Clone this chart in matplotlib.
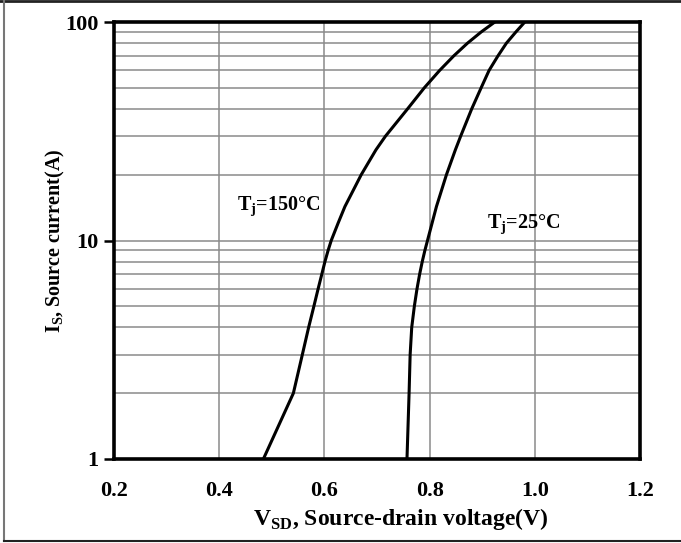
import matplotlib
matplotlib.use("Agg")
import matplotlib.pyplot as plt
from matplotlib.lines import Line2D
from matplotlib.ticker import FixedLocator, NullFormatter

# source current (A) vs source-drain voltage (V)
I_150 = [1, 2, 3, 4, 5, 6, 7, 8, 9, 10, 12, 14.3, 17, 20, 26, 30, 40, 50, 60, 70, 80, 90, 100]
V_150 = [0.484, 0.541, 0.558, 0.570, 0.580, 0.588, 0.595, 0.601, 0.607, 0.613,
         0.626, 0.639, 0.655, 0.670, 0.698, 0.716, 0.758, 0.790, 0.819, 0.846,
         0.872, 0.898, 0.924]

I_25 = [1, 2, 3, 4, 5, 6, 7, 8, 9, 10, 14.3, 20, 26, 30, 40, 50, 60, 70, 80, 90, 100]
V_25 = [0.757, 0.761, 0.763, 0.766, 0.771, 0.776, 0.781, 0.786, 0.791, 0.796,
        0.813, 0.832, 0.849, 0.859, 0.880, 0.898, 0.913, 0.930, 0.946, 0.964, 0.981]

X_TICKS = [0.2, 0.4, 0.6, 0.8, 1.0, 1.2]
X_TICK_LABELS = ["0.2", "0.4", "0.6", "0.8", "1.0", "1.2"]
Y_TICKS = [1, 10, 100]
Y_TICK_LABELS = ["1", "10", "100"]
Y_MINOR = [2, 3, 4, 5, 6, 7, 8, 9, 20, 30, 40, 50, 60, 70, 80, 90]

SERIF = ["Liberation Serif", "DejaVu Serif"]
plt.rcParams["font.family"] = SERIF
plt.rcParams["font.weight"] = "bold"

fig = plt.figure(figsize=(6.81, 5.43), dpi=100)
ax = fig.add_axes([114 / 681, 84 / 543, 526 / 681, 437 / 543])

ax.set_yscale("log")
ax.set_xlim(0.2, 1.2)
ax.set_ylim(1, 100)

ax.plot(V_150, I_150, color="black", linewidth=2.2, solid_joinstyle="round")
ax.plot(V_25, I_25, color="black", linewidth=2.2, solid_joinstyle="round")

ax.set_xticks(X_TICKS)
ax.set_xticklabels(X_TICK_LABELS)
ax.yaxis.set_major_locator(FixedLocator(Y_TICKS))
ax.set_yticklabels(Y_TICK_LABELS)
ax.yaxis.set_minor_locator(FixedLocator(Y_MINOR))
ax.yaxis.set_minor_formatter(NullFormatter())

ax.grid(True, which="both", axis="y", color="#8a8a8a", linewidth=1.1)
ax.grid(True, which="major", axis="x", color="#8a8a8a", linewidth=1.1)
ax.set_axisbelow(True)

ax.tick_params(axis="x", length=0, pad=16, labelsize=16)
ax.tick_params(axis="y", which="major", length=7, width=1.8, pad=4, labelsize=16)
ax.tick_params(axis="y", which="minor", length=0)
for lab in ax.get_xticklabels() + ax.get_yticklabels():
    lab.set_fontweight("bold")

for sp in ax.spines.values():
    sp.set_linewidth(2.6)

ax.set_xlabel("V$_\\mathregular{SD}$, Source-drain voltage(V)", fontsize=17,
              fontweight="bold", labelpad=0)
ax.xaxis.set_label_coords(0.545, -0.108)
ax.set_ylabel("I$_\\mathregular{S}$, Source current(A)", fontsize=14.5,
              fontweight="bold")
ax.yaxis.set_label_coords(-0.089, 0.5)

ax.text(0.592, 13.8, "T$_\\mathregular{j}$=150°C", fontsize=14.5, fontweight="bold",
        ha="right", va="baseline")
ax.text(0.909, 11.4, "T$_\\mathregular{j}$=25°C", fontsize=14.5, fontweight="bold",
        ha="left", va="baseline")

# outer image border
fig.add_artist(Line2D([0, 1], [0.999, 0.999], transform=fig.transFigure,
                      color="#222222", linewidth=2))
fig.add_artist(Line2D([3.5 / 681, 3.5 / 681], [0.003, 1], transform=fig.transFigure,
                      color="#777777", linewidth=1.5))
fig.add_artist(Line2D([3.5 / 681, 1], [2 / 543, 2 / 543], transform=fig.transFigure,
                      color="#222222", linewidth=1.5))

fig.savefig("out.png", dpi=100)
